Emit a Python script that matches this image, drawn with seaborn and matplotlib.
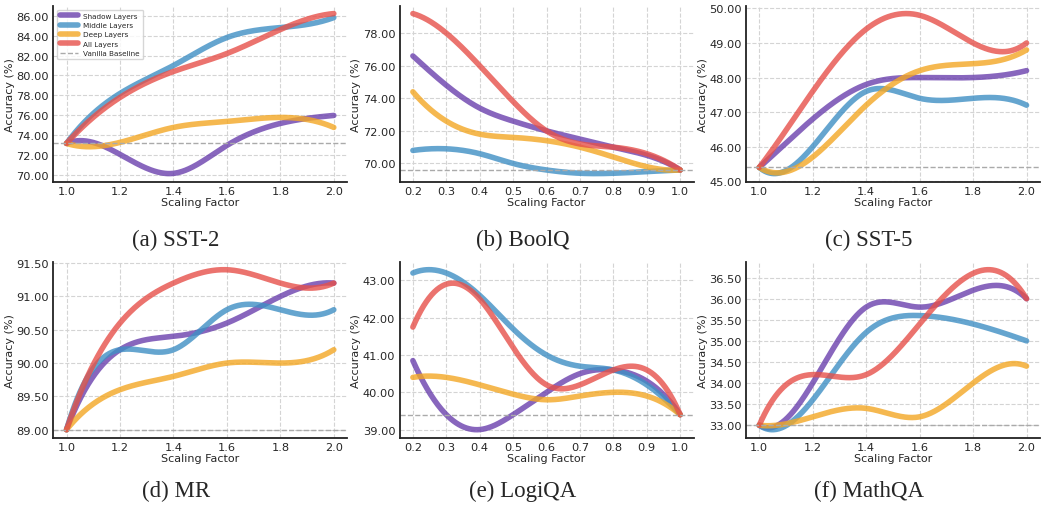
import numpy as np
import pandas as pd
import seaborn as sns
import matplotlib.pyplot as plt
from matplotlib.ticker import MultipleLocator, FormatStrFormatter

# --- data ---
X_SCALE = [1.0, 1.2, 1.4, 1.6, 1.8, 2.0]
X_FRAC = [0.2, 0.3, 0.4, 0.5, 0.6, 0.7, 0.8, 0.9, 1.0]

SERIES = ["Shadow Layers", "Middle Layers", "Deep Layers", "All Layers"]
COLORS = ["#6a40ad", "#3f8fc4", "#f3a724", "#e6504a"]

sst2 = [[73.2, 72.1, 70.2, 73.0, 75.2, 76.0],
        [73.2, 78.2, 81.0, 83.8, 84.8, 85.8],
        [73.2, 73.3, 74.8, 75.4, 75.8, 74.8],
        [73.2, 77.8, 80.4, 82.2, 84.6, 86.2]]
boolq = [[76.6, 74.8, 73.4, 72.6, 72.0, 71.5, 71.0, 70.5, 69.6],
         [70.8, 70.9, 70.6, 70.0, 69.6, 69.4, 69.4, 69.5, 69.6],
         [74.4, 72.6, 71.8, 71.6, 71.4, 71.0, 70.4, 69.8, 69.6],
         [79.2, 78.0, 76.0, 73.8, 72.0, 71.2, 71.0, 70.6, 69.6]]
sst5 = [[45.4, 46.8, 47.8, 48.0, 48.0, 48.2],
        [45.4, 46.0, 47.6, 47.4, 47.4, 47.2],
        [45.4, 45.7, 47.2, 48.2, 48.4, 48.8],
        [45.4, 47.6, 49.4, 49.8, 49.0, 49.0]]
mr = [[89.0, 90.2, 90.4, 90.6, 91.0, 91.2],
      [89.0, 90.2, 90.2, 90.8, 90.8, 90.8],
      [89.0, 89.6, 89.8, 90.0, 90.0, 90.2],
      [89.0, 90.6, 91.2, 91.4, 91.2, 91.2]]
logiqa = [[40.85, 39.4, 39.0, 39.4, 40.0, 40.5, 40.6, 40.3, 39.4],
          [43.2, 43.2, 42.6, 41.7, 41.0, 40.7, 40.6, 40.2, 39.4],
          [40.4, 40.4, 40.2, 39.95, 39.8, 39.9, 40.0, 39.9, 39.4],
          [41.75, 42.9, 42.5, 41.2, 40.2, 40.2, 40.6, 40.6, 39.4]]
mathqa = [[33.0, 34.0, 35.8, 35.8, 36.2, 36.0],
          [33.0, 33.6, 35.2, 35.6, 35.4, 35.0],
          [33.0, 33.2, 33.4, 33.2, 34.0, 34.4],
          [33.0, 34.2, 34.2, 35.4, 36.6, 36.0]]

PANELS = [("(a) SST-2", X_SCALE, sst2, 73.2, 2.0, 0.2),
          ("(b) BoolQ", X_FRAC, boolq, 69.6, 2.0, 0.1),
          ("(c) SST-5", X_SCALE, sst5, 45.4, 1.0, 0.2),
          ("(d) MR", X_SCALE, mr, 89.0, 0.5, 0.2),
          ("(e) LogiQA", X_FRAC, logiqa, 39.4, 1.0, 0.1),
          ("(f) MathQA", X_SCALE, mathqa, 33.0, 0.5, 0.2)]


def smooth(x, y, n=300):
    # cubic spline (not-a-knot), evenly spaced knots, only for drawing
    x = np.asarray(x, float)
    y = np.asarray(y, float)
    k = len(x)
    h = x[1] - x[0]
    A = np.zeros((k, k))
    b = np.zeros(k)
    A[0, :3] = [1, -2, 1]
    A[-1, -3:] = [1, -2, 1]
    for i in range(1, k - 1):
        A[i, i - 1:i + 2] = [1, 4, 1]
        b[i] = 6 / h**2 * (y[i - 1] - 2 * y[i] + y[i + 1])
    M = np.linalg.solve(A, b)
    xs = np.linspace(x[0], x[-1], n)
    idx = np.clip(((xs - x[0]) / h).astype(int), 0, k - 2)
    a = x[idx + 1] - xs
    c = xs - x[idx]
    ys = (M[idx] * a**3 + M[idx + 1] * c**3) / (6 * h) \
        + (y[idx] / h - M[idx] * h / 6) * a + (y[idx + 1] / h - M[idx + 1] * h / 6) * c
    return xs, ys


sns.set_style("white")
plt.rcParams['font.family'] = ['DejaVu Sans']

fig, axes = plt.subplots(2, 3, figsize=(10.42, 5.06), dpi=100)
plt.subplots_adjust(left=0.051, right=0.998, top=0.987, bottom=0.133,
                    wspace=0.178, hspace=0.455)

for i, (ax, (title, xv, data, base, ystep, xstep)) in enumerate(zip(axes.flat, PANELS)):
    for name, col, vals in zip(SERIES, COLORS, data):
        xs, ys = smooth(xv, vals)
        sns.lineplot(x=xs, y=ys, ax=ax, color=col, lw=4, alpha=0.8,
                     label=name, legend=False)
    ax.axhline(base, color="#aaaaaa", ls="--", lw=1, label="Vanilla Baseline")
    ax.yaxis.set_major_locator(MultipleLocator(ystep))
    ax.yaxis.set_major_formatter(FormatStrFormatter("%.2f"))
    ax.xaxis.set_major_locator(MultipleLocator(xstep))
    ax.xaxis.set_major_formatter(FormatStrFormatter("%.1f"))
    ax.grid(True, color="#d4d4d4", ls="--", lw=0.8)
    ax.tick_params(length=1.5, width=0.8, labelsize=8.2, pad=1.5)
    for s in ["top", "right"]:
        ax.spines[s].set_visible(False)
    for s in ["left", "bottom"]:
        ax.spines[s].set_color("#222222")
        ax.spines[s].set_linewidth(1.3)
    ax.set_xlabel("Scaling Factor", fontsize=8, labelpad=1)
    ax.set_ylabel("Accuracy (%)", fontsize=8, labelpad=1)
    pos = ax.get_position()
    cx = (pos.x0 - 48 / 1042 + pos.x1) / 2
    cy = 1 - 240 / 506 if i < 3 else 1 - 491 / 506
    fig.text(cx, cy, title, ha="center", va="center",
             fontsize=16.5, family="Liberation Serif")

leg = axes[0, 0].legend(loc="upper left", fontsize=5.2, frameon=True,
                        handlelength=2.4, borderpad=0.4, labelspacing=0.45,
                        borderaxespad=0.6)
leg.get_frame().set_edgecolor("#cccccc")

fig.savefig("out.png", dpi=100)
